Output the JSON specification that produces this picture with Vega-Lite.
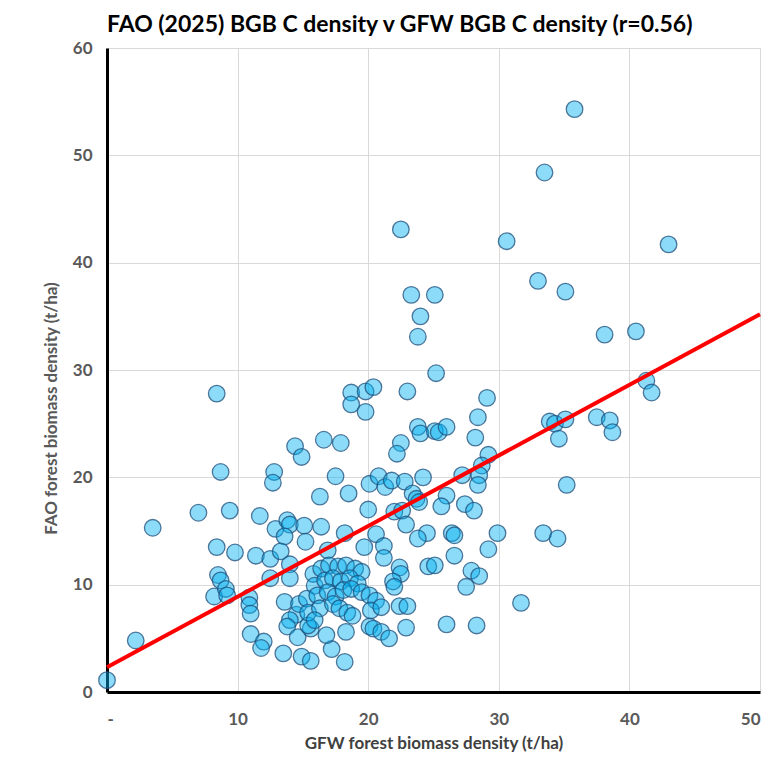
{
  "$schema": "https://vega.github.io/schema/vega-lite/v6.json",
  "width": 653,
  "height": 644,
  "autosize": "none",
  "padding": {"left": 107, "top": 48, "right": 22, "bottom": 90},
  "background": "white",
  "title": {
    "text": "FAO (2025) BGB C density v GFW BGB C density (r=0.56)",
    "anchor": "start",
    "frame": "group",
    "font": "Lato",
    "fontSize": 23,
    "fontWeight": "bold",
    "color": "#000000",
    "offset": 2
  },
  "config": {
    "view": {"stroke": null},
    "axis": {
      "labelFont": "Lato",
      "labelFontWeight": "bold",
      "labelFontSize": 17,
      "labelColor": "#595959",
      "titleFont": "Lato",
      "titleFontWeight": "bold",
      "titleFontSize": 17,
      "titleColor": "#595959",
      "gridColor": "#d9d9d9",
      "gridWidth": 1,
      "domainColor": "#000000",
      "domainWidth": 3,
      "ticks": false
    }
  },
  "datasets": {
    "pts": [
      {"gfw": 35.8, "fao": 54.3}, {"gfw": 33.5, "fao": 48.4}, {"gfw": 22.5, "fao": 43.1}, {"gfw": 30.6, "fao": 42.0},
      {"gfw": 43.0, "fao": 41.7}, {"gfw": 33.0, "fao": 38.3}, {"gfw": 35.1, "fao": 37.3}, {"gfw": 23.3, "fao": 37.0},
      {"gfw": 25.1, "fao": 37.0}, {"gfw": 24.0, "fao": 35.0}, {"gfw": 23.8, "fao": 33.1}, {"gfw": 38.1, "fao": 33.3},
      {"gfw": 40.5, "fao": 33.6}, {"gfw": 25.2, "fao": 29.7}, {"gfw": 23.0, "fao": 28.0}, {"gfw": 29.1, "fao": 27.4},
      {"gfw": 41.3, "fao": 29.0}, {"gfw": 41.7, "fao": 27.9}, {"gfw": 18.7, "fao": 27.9}, {"gfw": 19.8, "fao": 28.0},
      {"gfw": 20.4, "fao": 28.4}, {"gfw": 18.7, "fao": 26.8}, {"gfw": 19.8, "fao": 26.1}, {"gfw": 8.4, "fao": 27.8},
      {"gfw": 28.4, "fao": 25.6}, {"gfw": 33.9, "fao": 25.2}, {"gfw": 34.3, "fao": 25.0}, {"gfw": 35.1, "fao": 25.4},
      {"gfw": 34.6, "fao": 23.6}, {"gfw": 37.5, "fao": 25.6}, {"gfw": 38.5, "fao": 25.3}, {"gfw": 38.7, "fao": 24.2},
      {"gfw": 35.2, "fao": 19.3}, {"gfw": 23.8, "fao": 24.7}, {"gfw": 24.0, "fao": 24.1}, {"gfw": 25.1, "fao": 24.3},
      {"gfw": 25.4, "fao": 24.2}, {"gfw": 26.0, "fao": 24.7}, {"gfw": 28.2, "fao": 23.7}, {"gfw": 29.2, "fao": 22.1},
      {"gfw": 28.7, "fao": 21.1}, {"gfw": 28.5, "fao": 20.2}, {"gfw": 28.4, "fao": 19.3}, {"gfw": 27.2, "fao": 20.2},
      {"gfw": 22.5, "fao": 23.2}, {"gfw": 22.2, "fao": 22.2}, {"gfw": 14.4, "fao": 22.9}, {"gfw": 14.9, "fao": 21.9},
      {"gfw": 16.6, "fao": 23.5}, {"gfw": 17.9, "fao": 23.2}, {"gfw": 12.8, "fao": 20.5}, {"gfw": 12.7, "fao": 19.5},
      {"gfw": 8.7, "fao": 20.5}, {"gfw": 17.5, "fao": 20.1}, {"gfw": 16.3, "fao": 18.2}, {"gfw": 18.5, "fao": 18.5},
      {"gfw": 20.0, "fao": 17.0}, {"gfw": 20.1, "fao": 19.4}, {"gfw": 20.8, "fao": 20.1}, {"gfw": 21.3, "fao": 19.1},
      {"gfw": 21.8, "fao": 19.7}, {"gfw": 22.8, "fao": 19.6}, {"gfw": 24.2, "fao": 20.0}, {"gfw": 23.4, "fao": 18.5},
      {"gfw": 23.7, "fao": 18.0}, {"gfw": 23.9, "fao": 17.7}, {"gfw": 26.0, "fao": 18.3}, {"gfw": 25.6, "fao": 17.3},
      {"gfw": 27.4, "fao": 17.5}, {"gfw": 28.1, "fao": 16.9}, {"gfw": 22.0, "fao": 16.8}, {"gfw": 22.6, "fao": 16.9},
      {"gfw": 22.9, "fao": 15.6}, {"gfw": 24.5, "fao": 14.8}, {"gfw": 23.8, "fao": 14.3}, {"gfw": 20.6, "fao": 14.7},
      {"gfw": 21.2, "fao": 13.6}, {"gfw": 19.7, "fao": 13.5}, {"gfw": 21.2, "fao": 12.5}, {"gfw": 22.4, "fao": 11.6},
      {"gfw": 22.5, "fao": 11.0}, {"gfw": 21.9, "fao": 10.3}, {"gfw": 22.0, "fao": 9.8}, {"gfw": 24.6, "fao": 11.7},
      {"gfw": 25.1, "fao": 11.8}, {"gfw": 26.0, "fao": 6.3}, {"gfw": 28.3, "fao": 6.2}, {"gfw": 31.7, "fao": 8.3},
      {"gfw": 26.4, "fao": 14.8}, {"gfw": 26.6, "fao": 14.6}, {"gfw": 29.9, "fao": 14.8}, {"gfw": 33.4, "fao": 14.8},
      {"gfw": 34.5, "fao": 14.3}, {"gfw": 29.2, "fao": 13.3}, {"gfw": 26.6, "fao": 12.7}, {"gfw": 27.9, "fao": 11.3},
      {"gfw": 28.5, "fao": 10.8}, {"gfw": 27.5, "fao": 9.8}, {"gfw": 3.5, "fao": 15.3}, {"gfw": 7.0, "fao": 16.7},
      {"gfw": 9.4, "fao": 16.9}, {"gfw": 11.7, "fao": 16.4}, {"gfw": 12.9, "fao": 15.2}, {"gfw": 13.8, "fao": 16.0},
      {"gfw": 14.0, "fao": 15.6}, {"gfw": 13.6, "fao": 14.5}, {"gfw": 15.1, "fao": 15.5}, {"gfw": 16.4, "fao": 15.4},
      {"gfw": 15.2, "fao": 14.0}, {"gfw": 18.2, "fao": 14.8}, {"gfw": 16.9, "fao": 13.2}, {"gfw": 8.4, "fao": 13.5},
      {"gfw": 9.8, "fao": 13.0}, {"gfw": 11.4, "fao": 12.7}, {"gfw": 12.5, "fao": 12.4}, {"gfw": 13.3, "fao": 13.1},
      {"gfw": 14.0, "fao": 11.9}, {"gfw": 12.5, "fao": 10.6}, {"gfw": 14.0, "fao": 10.6}, {"gfw": 8.5, "fao": 10.9},
      {"gfw": 8.7, "fao": 10.4}, {"gfw": 8.2, "fao": 8.9}, {"gfw": 9.1, "fao": 9.6}, {"gfw": 9.2, "fao": 9.0},
      {"gfw": 10.9, "fao": 8.8}, {"gfw": 10.9, "fao": 8.1}, {"gfw": 11.0, "fao": 7.3}, {"gfw": 11.0, "fao": 5.4},
      {"gfw": 12.0, "fao": 4.7}, {"gfw": 11.8, "fao": 4.1}, {"gfw": 13.5, "fao": 3.6}, {"gfw": 14.9, "fao": 3.3},
      {"gfw": 15.6, "fao": 2.9}, {"gfw": 17.2, "fao": 4.0}, {"gfw": 18.2, "fao": 2.8}, {"gfw": 16.8, "fao": 5.3},
      {"gfw": 18.3, "fao": 5.6}, {"gfw": 2.2, "fao": 4.8}, {"gfw": 0.0, "fao": 1.1}, {"gfw": 13.6, "fao": 8.4},
      {"gfw": 14.5, "fao": 7.2}, {"gfw": 14.0, "fao": 6.7}, {"gfw": 13.8, "fao": 6.1}, {"gfw": 14.6, "fao": 5.1},
      {"gfw": 14.7, "fao": 8.2}, {"gfw": 15.6, "fao": 5.9}, {"gfw": 15.4, "fao": 6.2}, {"gfw": 15.8, "fao": 11.0},
      {"gfw": 16.4, "fao": 11.5}, {"gfw": 17.0, "fao": 11.8}, {"gfw": 17.7, "fao": 11.7}, {"gfw": 18.3, "fao": 11.8},
      {"gfw": 19.0, "fao": 11.5}, {"gfw": 19.5, "fao": 11.2}, {"gfw": 15.9, "fao": 9.9}, {"gfw": 16.7, "fao": 10.4},
      {"gfw": 17.3, "fao": 10.6}, {"gfw": 17.9, "fao": 10.3}, {"gfw": 18.6, "fao": 10.6}, {"gfw": 19.2, "fao": 10.1},
      {"gfw": 15.3, "fao": 8.7}, {"gfw": 16.1, "fao": 9.0}, {"gfw": 16.9, "fao": 9.3}, {"gfw": 17.5, "fao": 8.9},
      {"gfw": 18.1, "fao": 9.5}, {"gfw": 18.7, "fao": 9.6}, {"gfw": 19.5, "fao": 9.3}, {"gfw": 20.1, "fao": 9.0},
      {"gfw": 20.6, "fao": 8.5}, {"gfw": 15.4, "fao": 7.4}, {"gfw": 16.3, "fao": 7.8}, {"gfw": 17.3, "fao": 8.2},
      {"gfw": 17.8, "fao": 7.8}, {"gfw": 18.4, "fao": 7.4}, {"gfw": 18.8, "fao": 7.1}, {"gfw": 20.2, "fao": 7.6},
      {"gfw": 21.0, "fao": 7.9}, {"gfw": 15.9, "fao": 6.7}, {"gfw": 20.1, "fao": 6.1}, {"gfw": 20.4, "fao": 5.9},
      {"gfw": 21.0, "fao": 5.6}, {"gfw": 21.6, "fao": 5.0}, {"gfw": 22.9, "fao": 6.0}, {"gfw": 22.4, "fao": 8.0},
      {"gfw": 23.0, "fao": 8.0}
    ],
    "fit": [
      {"gfw": 0, "fao": 2.3},
      {"gfw": 50, "fao": 35.2}
    ]
  },
  "layer": [
    {
      "data": {"name": "pts"},
      "mark": {"type": "point", "shape": "circle", "filled": true, "size": 275, "fill": "#00b0f0", "fillOpacity": 0.45, "stroke": "#1f4e79", "strokeWidth": 1.3, "strokeOpacity": 0.75},
      "encoding": {
        "x": {
          "field": "gfw", "type": "quantitative",
          "scale": {"domain": [0, 50], "nice": false},
          "axis": {
            "values": [0, 10, 20, 30, 40, 50],
            "labelExpr": "datum.value == 0 ? '-' : datum.label",
            "labelPadding": 19,
            "title": "GFW forest biomass density (t/ha)",
            "titlePadding": 8,
            "titleColor": "#404040"
          }
        },
        "y": {
          "field": "fao", "type": "quantitative",
          "scale": {"domain": [0, 60], "nice": false},
          "axis": {
            "values": [0, 10, 20, 30, 40, 50, 60],
            "labelPadding": 15,
            "title": "FAO forest  biomass density (t/ha)",
            "titlePadding": 12,
            "titleY": 360
          }
        }
      }
    },
    {
      "data": {"name": "fit"},
      "mark": {"type": "line", "color": "#ff0000", "strokeWidth": 4},
      "encoding": {
        "x": {"field": "gfw", "type": "quantitative"},
        "y": {"field": "fao", "type": "quantitative"}
      }
    }
  ]
}
